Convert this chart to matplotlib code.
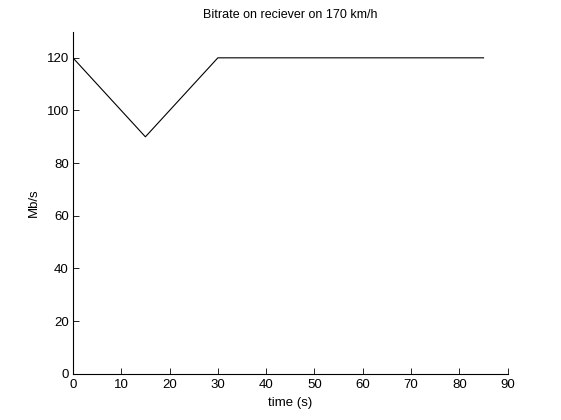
import matplotlib
matplotlib.use("Agg")
import matplotlib.pyplot as plt

# bitrate samples
time_s = [0, 15, 30, 85]
bitrate = [120, 90, 120, 120]

x_ticks = [0, 10, 20, 30, 40, 50, 60, 70, 80, 90]
y_ticks = [0, 20, 40, 60, 80, 100, 120]

plt.rcParams["font.family"] = ["Liberation Sans", "DejaVu Sans"]
plt.rcParams["font.size"] = 9.5

fig = plt.figure(figsize=(5.61, 4.2), dpi=100)
ax = fig.add_axes([0.13, 0.11, 0.775, 0.815])

ax.plot(time_s, bitrate, color="black", linewidth=0.8)

ax.set_xlim(0, 90)
ax.set_ylim(0, 130)
ax.set_xticks(x_ticks)
ax.set_yticks(y_ticks)
ax.tick_params(direction="in", length=4, width=0.6)
ax.tick_params(axis="x", pad=4)
ax.tick_params(axis="y", pad=3)
ax.spines["top"].set_visible(False)
ax.spines["right"].set_visible(False)
ax.spines["left"].set_linewidth(0.8)
ax.spines["bottom"].set_linewidth(0.8)

ax.set_xlabel("time (s)", labelpad=4)
ax.set_ylabel("Mb/s", labelpad=5)
ax.set_title("Bitrate on reciever on 170 km/h", fontsize=9, pad=10)

fig.savefig("out.png", dpi=100)
